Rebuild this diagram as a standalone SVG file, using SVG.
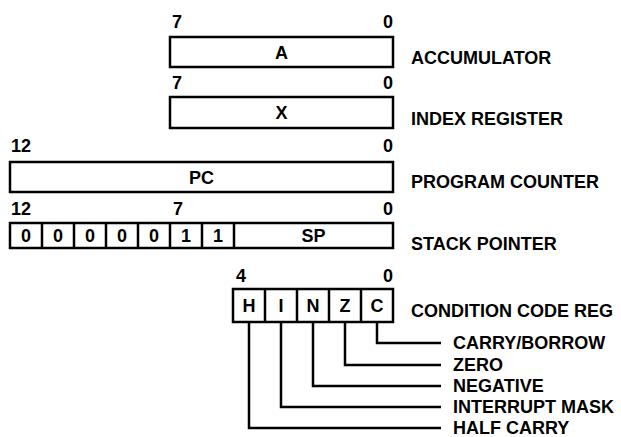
<svg xmlns="http://www.w3.org/2000/svg" width="621" height="437" viewBox="0 0 621 437">
<style>
text{font-family:"Liberation Sans",Arial,sans-serif;font-weight:bold;font-size:18px;fill:#000}
.c{text-anchor:middle}
.e{text-anchor:end}
.box{fill:#fff;stroke:#000;stroke-width:2.5}
.ln{fill:none;stroke:#000;stroke-width:2.5}
</style>
<rect width="621" height="437" fill="#fff"/>
<g id="acc">
<text x="172" y="28">7</text><text x="393" y="28" class="e">0</text>
<rect class="box" x="170" y="37" width="223" height="30"/>
<text x="281.5" y="58.5" class="c">A</text>
<text x="411" y="64">ACCUMULATOR</text>
</g>
<g id="idx">
<text x="172" y="89">7</text><text x="393" y="89" class="e">0</text>
<rect class="box" x="170" y="97" width="223" height="31"/>
<text x="281.5" y="119" class="c">X</text>
<text x="411" y="125">INDEX REGISTER</text>
</g>
<g id="pc">
<text x="11" y="152">12</text><text x="393" y="152" class="e">0</text>
<rect class="box" x="10" y="162" width="383" height="30"/>
<text x="201.5" y="183.5" class="c">PC</text>
<text x="411" y="188">PROGRAM COUNTER</text>
</g>
<g id="sp">
<text x="11" y="215">12</text><text x="173" y="215">7</text><text x="393" y="215" class="e">0</text>
<rect class="box" x="10" y="223" width="383" height="25"/>
<path class="ln" d="M42 223V248M74 223V248M106 223V248M138 223V248M170 223V248M202 223V248M234 223V248"/>
<text x="26" y="242" class="c">0</text><text x="58" y="242" class="c">0</text><text x="90" y="242" class="c">0</text><text x="122" y="242" class="c">0</text><text x="154" y="242" class="c">0</text><text x="186" y="242" class="c">1</text><text x="218" y="242" class="c">1</text>
<text x="313.5" y="242" class="c">SP</text>
<text x="411" y="250">STACK POINTER</text>
</g>
<g id="ccr">
<text x="236" y="282">4</text><text x="393" y="282" class="e">0</text>
<rect class="box" x="233" y="289" width="160" height="33"/>
<path class="ln" d="M265 289V322M297 289V322M329 289V322M361 289V322"/>
<text x="249" y="312" class="c">H</text><text x="281" y="312" class="c">I</text><text x="313" y="312" class="c">N</text><text x="345" y="312" class="c">Z</text><text x="377" y="312" class="c">C</text>
<text x="411" y="317">CONDITION CODE REG</text>
</g>
<g id="connectors">
<path class="ln" d="M377 322V343H441M345 322V365H441M313 322V386H441M281 322V407H441M249 322V428H441"/>
</g>
<g id="flags">
<text x="453" y="349">CARRY/BORROW</text>
<text x="453" y="371">ZERO</text>
<text x="453" y="392">NEGATIVE</text>
<text x="453" y="413">INTERRUPT MASK</text>
<text x="453" y="434">HALF CARRY</text>
</g>
</svg>
